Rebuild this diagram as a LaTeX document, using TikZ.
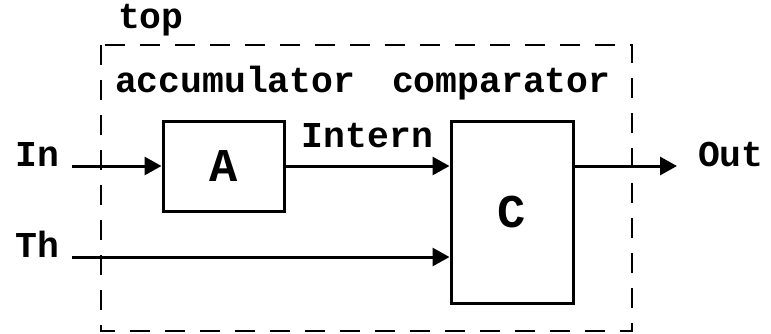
\documentclass[tikz,border=0pt]{standalone}
\usepackage{fontspec}
\setmonofont{Liberation Mono}
\usepackage{tikz}
\usetikzlibrary{arrows.meta}
\usetikzlibrary{positioning}
\tikzset{
  lbl/.style={font=\ttfamily\bfseries\fontsize{18.2}{20}\selectfont, inner sep=0pt, outer sep=0pt},
  blk/.style={draw, line width=1.5pt, minimum width=60.5pt, inner sep=0pt,
              font=\ttfamily\bfseries\fontsize{23.5}{26}\selectfont},
  sig/.style={line width=1.5pt, -{Triangle[length=8.5pt,width=9pt]}},
  frame/.style={line width=1.1pt, dash pattern=on 10pt off 7.5pt}
}

\begin{document}
\begin{tikzpicture}[x=0.5pt,y=-0.5pt]
        \useasboundingbox (0,0) rectangle (771,333);
        % hierarchy frame
        \draw[frame] (101,45) rectangle (632,331);
        \node[lbl, anchor=base west] (toplbl) at (118,28) {top};
        \node[lbl, anchor=base west] (acclbl) at (115,92) {accumulator};
        \node[lbl, anchor=base west] (cmplbl) at (392,92) {comparator};
        % blocks
        \node[blk, minimum height=45pt] (acc) at (223.5,166) {A};
        \node[blk, minimum width=61pt, minimum height=91pt] (cmp) at (512,212) {C};
        % ports
        \node[lbl, anchor=base east, inner xsep=6.5pt] (inlbl) at (72,166) {In};
        \node[lbl, anchor=base east, inner xsep=6.5pt] (thlbl) at (72,257) {Th};
        \node[lbl, anchor=base west, inner xsep=10.5pt] (outlbl) at (677,166) {Out};
        % signals
        \draw[sig] (inlbl.base east) -- (acc.west);
        \draw[sig] (acc.east) -- node[lbl, above=9pt] (internlbl) {Intern} (acc.east -| cmp.west);
        \draw[sig] (thlbl.base east) -- (thlbl.base east -| cmp.west);
        \draw[sig] (cmp.east |- acc.east) -- (outlbl.base west);
    \end{tikzpicture}
\end{document}
